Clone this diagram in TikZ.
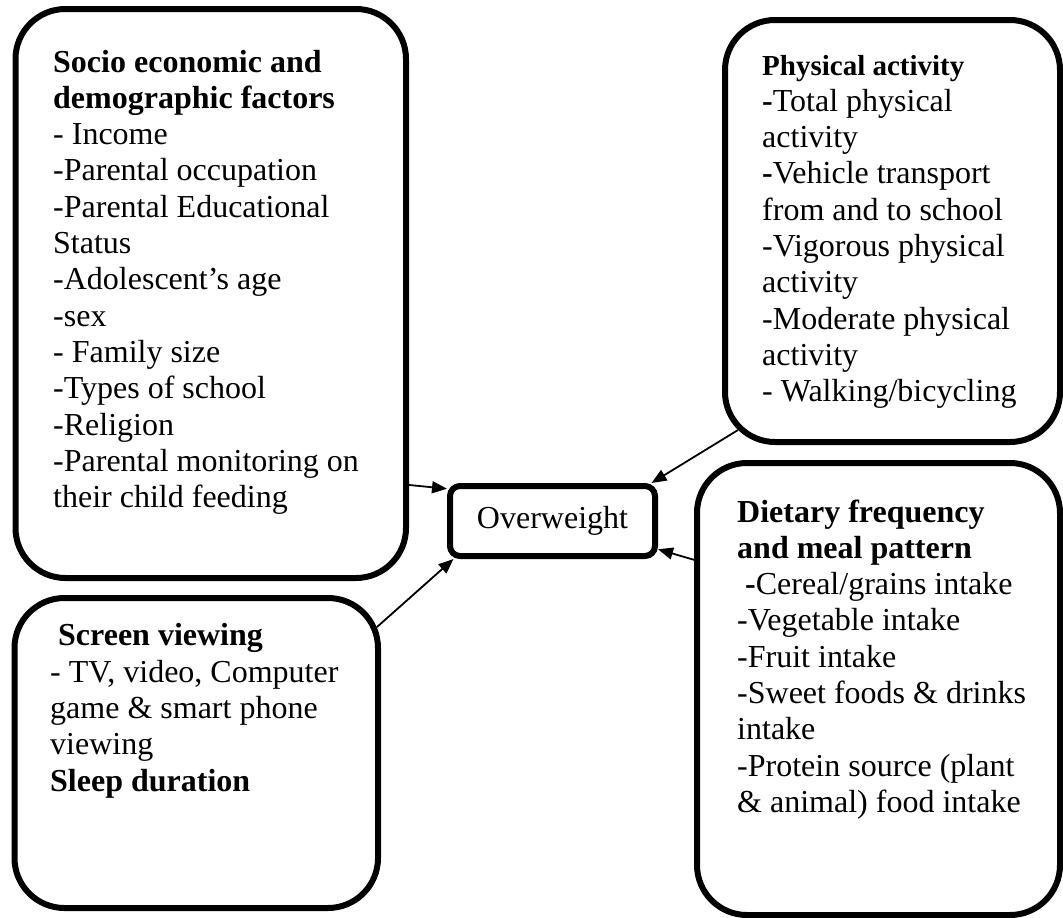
\documentclass[tikz,border=0pt]{standalone}
\usepackage{fontspec}
\setmainfont{Liberation Serif}
\usetikzlibrary{calc, shapes, arrows.meta}

\begin{document}
\begin{tikzpicture}[x=1pt, y=-1pt,
	factorbox/.style={draw, line width=6pt, rounded corners=50pt, inner sep=0pt},
	outcomebox/.style={draw, line width=6pt, rounded corners=10pt, inner sep=0pt, font=\myfontbody},
	factortext/.style={anchor=base west, align=left, inner sep=0pt, font=\myfontbody},
	arrowline/.style={line width=1.8pt, -{Triangle[length=15pt, width=12pt]}}]
	\newcommand{\myfontbody}{\fontsize{32}{36.3}\selectfont}
	\newcommand{\myfonthead}[1]{{\fontsize{29}{36.3}\selectfont\bfseries #1}}
	\useasboundingbox (0,0) rectangle (1063,918);
	%Boxes of the factors
	\node [factorbox, minimum width=390.5pt, minimum height=569pt] (socio) at (210.75,293.5) {};
	\node [factorbox, minimum width=335pt, minimum height=422pt] (physical) at (892.5,231) {};
	\node [factorbox, minimum width=363pt, minimum height=452pt] (dietary) at (878.5,689) {};
	\node [factorbox, minimum width=363.5pt, minimum height=310pt] (screen) at (196.25,753) {};
	%The outcome in the middle
	\node [outcomebox, minimum width=205pt, minimum height=70pt] (overweight) at (552.5,521) {Overweight};
	%Texts in the boxes (placed at the baseline of their last line)
	\node [factortext] (sociotext) at (53,507.6) {\textbf{Socio economic and}\\
		\textbf{demographic factors}\\
		- Income\\
		-Parental occupation\\
		-Parental Educational\\
		Status\\
		-Adolescent’s age\\
		-sex\\
		- Family size\\
		-Types of school\\
		-Religion\\
		-Parental monitoring on\\
		their child feeding};
	\node [factortext] (physicaltext) at (762,401.7) {\myfonthead{Physical activity}\\
		\textbf{-}Total physical\\
		activity\\
		\textbf{-}Vehicle transport\\
		from and to school\\
		-Vigorous physical\\
		activity\\
		-Moderate physical\\
		activity\\
		- Walking/bicycling};
	\node [factortext] (dietarytext) at (737,812.4) {\textbf{Dietary frequency}\\
		\textbf{and meal pattern}\\
		\ \textbf{-}Cereal/grains intake\\
		-Vegetable intake\\
		-Fruit intake\\
		-Sweet foods \& drinks\\
		intake\\
		-Protein source (plant\\
		\& animal) food intake};
	\node [factortext] (screentext) at (50,791) {\ \textbf{Screen viewing}\\
		- TV, video, Computer\\
		game \& smart phone\\
		viewing\\
		\textbf{Sleep duration}};
	%Arrows to the outcome
	\draw [arrowline] (socio.-44) -- (overweight.163);
	\draw [arrowline] ([shift={(-4,32)}]screen.north east) -- (overweight.201);
	\draw [arrowline] ([shift={(16,-15)}]physical.south west) -- (overweight.21);
	\draw [arrowline] (dietary.145) -- (overweight.-15.5);
\end{tikzpicture}
\end{document}
